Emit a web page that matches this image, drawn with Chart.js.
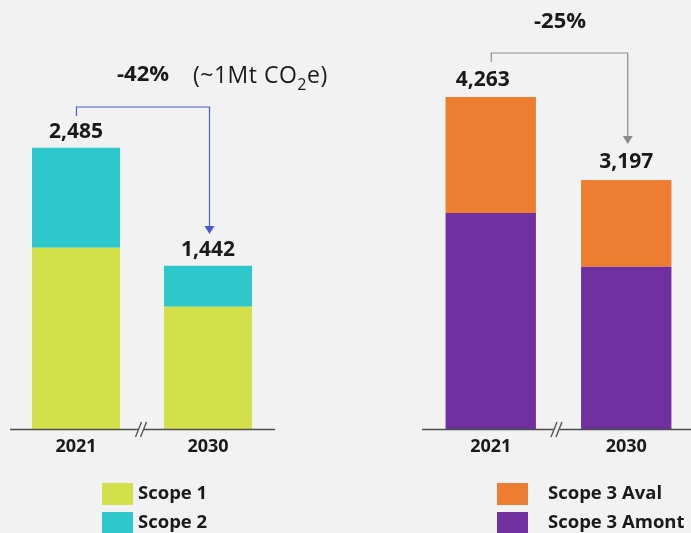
<!DOCTYPE html>
<html>
<head>
<meta charset="utf-8">
<script src="https://cdn.jsdelivr.net/npm/chart.js@4.4.1/dist/chart.umd.min.js"></script>
<style>
html,body{margin:0;padding:0;background:#f2f2f2;width:691px;height:533px;overflow:hidden;}
canvas{position:absolute;top:0;}
#c1{left:0;}
#c2{left:345px;}
</style>
</head>
<body>
<canvas id="c1" width="345" height="533"></canvas>
<canvas id="c2" width="360" height="533"></canvas>
<script>
// ---- Data ----
const years = ["2021", "2030"];
const scope1 = [1600, 1080];
const scope2 = [885, 362];
const scope3Amont = [2773, 2082];
const scope3Aval = [1490, 1115];
const leftChange = "-42%";
const leftNote = "(~1Mt CO";
const rightChange = "-25%";

const FONT = "'Open Sans', 'DejaVu Sans', sans-serif";
const TEXT = "#1a1a1a";

function fmt(v){ return v.toLocaleString('en-US'); }

const drawPlugin = {
  id: 'panelDecor',
  afterDatasetsDraw(chart, args, o) {
    const ctx = chart.ctx;
    const xs = chart.scales.x, ys = chart.scales.y;
    const area = chart.chartArea;
    const n = chart.data.labels.length;
    const totals = chart.data.labels.map((_, i) =>
      chart.data.datasets.reduce((s, d) => s + d.data[i], 0));
    ctx.save();
    // axis line
    ctx.strokeStyle = "#4d4d4d";
    ctx.lineWidth = 1.5;
    ctx.beginPath();
    ctx.moveTo(o.axisFrom, area.bottom + 0.5);
    ctx.lineTo(o.axisTo, area.bottom + 0.5);
    ctx.stroke();
    // break marks
    const bx = (xs.getPixelForValue(0) + xs.getPixelForValue(1)) / 2 + o.breakShift;
    ctx.fillStyle = "#f2f2f2";
    ctx.fillRect(bx - 3, area.bottom - 3, 6, 7);
    ctx.strokeStyle = "#4d4d4d";
    ctx.lineWidth = 1.3;
    [-2.5, 2.5].forEach(dx => {
      ctx.beginPath();
      ctx.moveTo(bx + dx - 3, area.bottom + 8);
      ctx.lineTo(bx + dx + 3, area.bottom - 7);
      ctx.stroke();
    });
    // category labels
    ctx.fillStyle = TEXT;
    ctx.textAlign = "center";
    ctx.textBaseline = "middle";
    ctx.font = "bold 18px " + FONT;
    for (let i = 0; i < n; i++) {
      ctx.fillText(chart.data.labels[i], xs.getPixelForValue(i), area.bottom + 18);
    }
    // total labels
    ctx.font = "bold 21px " + FONT;
    for (let i = 0; i < n; i++) {
      ctx.fillText(fmt(totals[i]), xs.getPixelForValue(i) + o.labelShift[i], ys.getPixelForValue(totals[i]) - o.labelGap[i]);
    }
    // arrow
    const x0 = xs.getPixelForValue(0) + 0.5, x1 = xs.getPixelForValue(1) + 1.5;
    ctx.strokeStyle = o.arrowColor;
    ctx.fillStyle = o.arrowColor;
    ctx.lineWidth = 1.2;
    ctx.beginPath();
    ctx.moveTo(x0, o.arrowStub);
    ctx.lineTo(x0, o.arrowTop);
    ctx.lineTo(x1, o.arrowTop);
    ctx.lineTo(x1, o.arrowTip - 6);
    ctx.stroke();
    ctx.beginPath();
    ctx.moveTo(x1 - 5, o.arrowTip - 8);
    ctx.lineTo(x1 + 5, o.arrowTip - 8);
    ctx.lineTo(x1, o.arrowTip);
    ctx.closePath();
    ctx.fill();
    // change annotation
    ctx.fillStyle = TEXT;
    ctx.font = "bold 22px " + FONT;
    ctx.textAlign = "center";
    ctx.fillText(o.change, o.changeX, o.changeY);
    if (o.note) {
      ctx.textAlign = "left";
      ctx.letterSpacing = "0.5px";
      ctx.font = "23px " + FONT;
      let x = o.noteX;
      ctx.fillText(o.note, x, o.changeY + 1);
      x += ctx.measureText(o.note).width;
      ctx.font = "16px " + FONT;
      ctx.fillText("2", x, o.changeY + 10);
      x += ctx.measureText("2").width;
      ctx.font = "23px " + FONT;
      ctx.fillText("e)", x, o.changeY + 1);
      ctx.letterSpacing = "0px";
    }
    // legend
    ctx.textAlign = "left";
    ctx.font = "bold 18.5px " + FONT;
    o.legendOrder.forEach((di, k) => {
      const ds = chart.data.datasets[di];
      const y = o.legendY + k * 29;
      ctx.fillStyle = ds.backgroundColor;
      ctx.fillRect(o.legendX, y, 31, 22);
      ctx.fillStyle = TEXT;
      ctx.fillText(ds.label, o.legendX + o.legendTextGap, y + 11);
    });
    ctx.restore();
  }
};

function makeChart(id, datasets, yMax, padding, decor) {
  return new Chart(document.getElementById(id), {
    type: 'bar',
    data: { labels: years, datasets: datasets },
    options: {
      responsive: false,
      animation: false,
      devicePixelRatio: 1,
      layout: { padding: padding },
      plugins: { legend: { display: false }, tooltip: { enabled: false }, panelDecor: decor },
      scales: {
        x: { stacked: true, display: false },
        y: { stacked: true, display: false, min: 0, max: yMax }
      },
      datasets: { bar: { barPercentage: 1, categoryPercentage: 0.667, borderWidth: 0 } }
    },
    plugins: [drawPlugin]
  });
}

makeChart('c1', [
  { label: 'Scope 1', data: scope1, backgroundColor: '#d4e04a' },
  { label: 'Scope 2', data: scope2, backgroundColor: '#2ec8cc' }
], 2650, { left: 10, right: 71, top: 129, bottom: 104 }, {
  axisFrom: 10, axisTo: 275, breakShift: -1,
  labelShift: [0, 0], labelGap: [16, 16],
  arrowColor: '#4a5ac8', arrowTop: 107, arrowStub: 116, arrowTip: 234,
  change: leftChange, changeX: 143, changeY: 75, note: leftNote, noteX: 193,
  legendX: 102, legendY: 483, legendTextGap: 36, legendOrder: [0, 1]
});

makeChart('c2', [
  { label: 'Scope 3 Amont', data: scope3Amont, backgroundColor: '#7030a0' },
  { label: 'Scope 3 Aval', data: scope3Aval, backgroundColor: '#ed7d31' }
], 5250, { left: 78, right: 11, top: 20, bottom: 104 }, {
  axisFrom: 77, axisTo: 360, breakShift: -2,
  labelShift: [-8, 0], labelGap: [17, 18],
  arrowColor: '#8c8c8c', arrowTop: 53, arrowStub: 62, arrowTip: 144,
  change: rightChange, changeX: 215, changeY: 22, note: null,
  legendX: 152, legendY: 483, legendTextGap: 51, legendOrder: [1, 0]
});
</script>
</body>
</html>
